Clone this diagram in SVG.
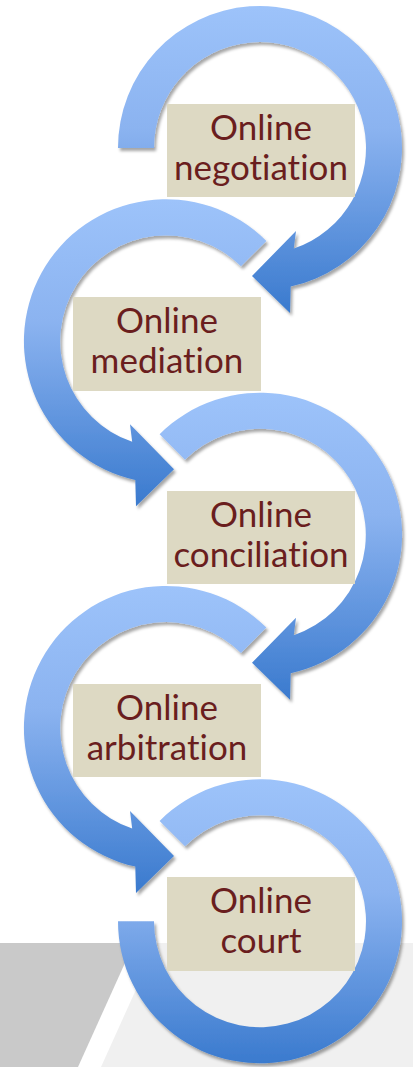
<svg xmlns="http://www.w3.org/2000/svg" width="413" height="1067" viewBox="0 0 413 1067">
<style>
.box{fill:#DDD9C3}
.lbl{font-family:Lato,"Liberation Sans",sans-serif;font-size:35px;fill:#6A1E1E;text-anchor:middle;font-variant-ligatures:none;font-feature-settings:"liga" 0,"dlig" 0}
.arr{fill:url(#blue)}
</style>
<defs>
<linearGradient id="blue" x1="0" y1="0" x2="0" y2="1">
<stop offset="0" stop-color="#9DC3FA"/>
<stop offset="0.4" stop-color="#8BB3F0"/>
<stop offset="1" stop-color="#3A7ACE"/>
</linearGradient>
<filter id="sh" x="-20%" y="-20%" width="140%" height="140%">
<feGaussianBlur in="SourceAlpha" stdDeviation="1.8"/>
<feOffset dx="2" dy="3" result="b"/>
<feFlood flood-color="#000" flood-opacity="0.35"/>
<feComposite in2="b" operator="in"/>
<feMerge><feMergeNode/><feMergeNode in="SourceGraphic"/></feMerge>
</filter>
<path id="arrA" d="M-142,0 A142,142 0 1 1 30.7,138.6 L30,165 L-8,128 L36,83 L33.8,100.5 A106,106 0 1 0 -106,0 Z"/>
<path id="arrB" d="M-100.4,-100.4 A142,142 0 1 1 30.7,138.6 L30,165 L-8,128 L36,83 L33.8,100.5 A106,106 0 1 0 -75,-75 Z"/>
</defs>
<g id="background">
<polygon points="0,943 134,943 78,1067 0,1067" fill="#C9C9C9"/>
<polygon points="157,943 413,943 413,1067 101,1067" fill="#F0F0F0"/>
</g>
<g id="connectors">
<g id="arrow1" filter="url(#sh)" transform="translate(260,148)"><use href="#arrA" class="arr"/></g>
<g id="arrow2" filter="url(#sh)" transform="translate(166,341.3)"><use href="#arrB" class="arr" transform="scale(-1,1)"/></g>
<g id="arrow3" filter="url(#sh)" transform="translate(260,534.7)"><use href="#arrB" class="arr"/></g>
<g id="arrow4" filter="url(#sh)" transform="translate(166,728)"><use href="#arrB" class="arr" transform="scale(-1,1)"/></g>
<g id="arrow5" filter="url(#sh)" transform="translate(260,921.3)"><path class="arr" d="M-100.4,-100.4 A142,142 0 1 1 -142,0 L-106,0 A106,106 0 1 0 -75,-75 Z"/></g>
</g>
<g id="node1"><rect class="box" x="167" y="104" width="188" height="93"/><text class="lbl" x="261" y="140">Online</text><text class="lbl" x="261" y="180">negotiation</text></g>
<g id="node2"><rect class="box" x="73" y="297" width="188" height="94"/><text class="lbl" x="167" y="333">Online</text><text class="lbl" x="167" y="373">mediation</text></g>
<g id="node3"><rect class="box" x="167" y="491" width="188" height="93"/><text class="lbl" x="261" y="527">Online</text><text class="lbl" x="261" y="567">conciliation</text></g>
<g id="node4"><rect class="box" x="73" y="684" width="188" height="93"/><text class="lbl" x="167" y="720">Online</text><text class="lbl" x="167" y="760">arbitration</text></g>
<g id="node5"><rect class="box" x="167" y="877" width="188" height="94"/><text class="lbl" x="261" y="913">Online</text><text class="lbl" x="261" y="953">court</text></g>
</svg>
